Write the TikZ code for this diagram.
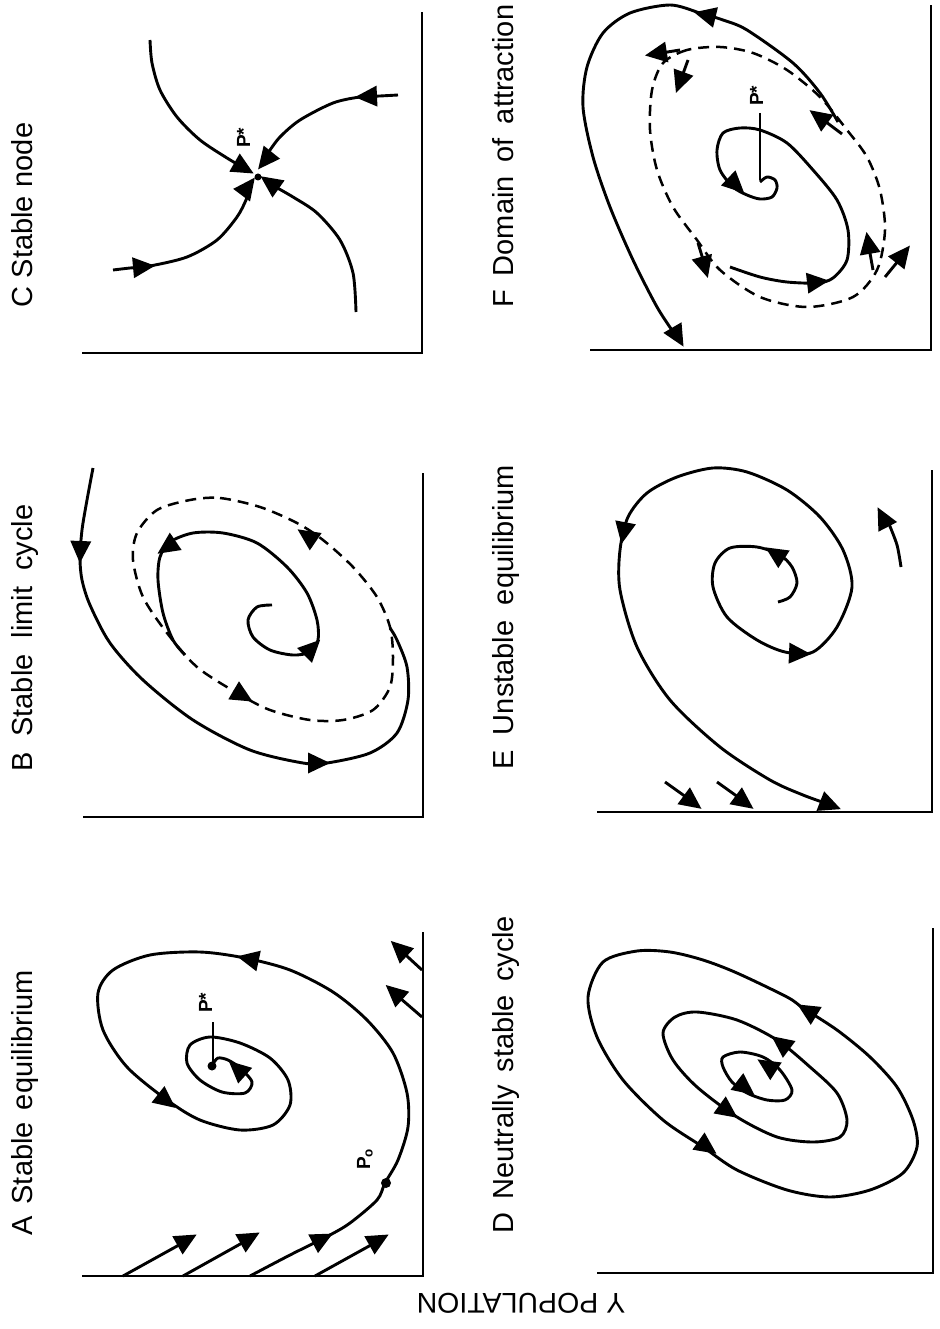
\documentclass[tikz,border=0pt]{standalone}
\usepackage{fontspec}
\setmainfont{Liberation Sans}
\usetikzlibrary{calc}
\newcommand{\ah}[4]{\begin{scope}[shift={(#3,#4)},rotate={atan2(#2-#4,#3-#1)}]\fill[headfill] (3,0) -- (-19,10.5) -- (-19,-10.5) -- cycle;\end{scope}}
\tikzset{
 ptitle/.style={rotate=90, anchor=base west, inner sep=0pt, font=\fontsize{29}{34}\selectfont},
 plabel/.style={rotate=90, anchor=base west, inner sep=0pt, font=\fontsize{19}{21}\selectfont\bfseries},
 axis/.style={line width=2.6pt},
 curve/.style={line width=2.9pt},
 dashcurve/.style={line width=2.5pt, dash pattern=on 11pt off 7pt},
 headfill/.style={fill=black},
 dotfill/.style={fill=black},
}
\begin{document}
\begin{tikzpicture}[x=1pt,y=-1pt]
\useasboundingbox (0,0) rectangle (939,1329);
\fill[white] (0,0) rectangle (939,1329);

% ---------- titles ----------
\node[ptitle] (tC) at (32,308) {\makebox[185pt][s]{C Stable node}};
\node[ptitle] (tB) at (32,772) {\makebox[267pt][s]{B Stable limit cycle}};
\node[ptitle] (tA) at (32,1236) {\makebox[266pt][s]{A Stable equilibrium}};
\node[ptitle] (tF) at (513,308) {\makebox[303pt][s]{F Domain of attraction}};
\node[ptitle] (tE) at (513,770) {\makebox[305pt][s]{E Unstable equilibrium}};
\node[ptitle] (tD) at (513,1234) {\makebox[318pt][s]{D Neutrally stable cycle}};
\node[rotate=180, inner sep=0pt, font=\fontsize{28.5}{30}\selectfont] (ylab) at (521,1303) {Y POPULATION};

% ---------- axes ----------
\draw[axis] (82,353) -- (422,353) -- (422,12);
\draw[axis] (83,817) -- (423,817) -- (423,473);
\draw[axis] (82,1276) -- (423,1276) -- (423,932);
\draw[axis] (590,350) -- (931,350) -- (931,5);
\draw[axis] (597,812) -- (932,812) -- (932,470);
\draw[axis] (597,1273) -- (933,1273) -- (933,928);

% ---------- C Stable node ----------
\draw[curve] plot[smooth] coordinates {(150,40) (152,63) (160,90) (177,117) (200,140) (227,158) (244,168)};
\ah{230}{160}{251}{172}
\draw[curve] plot[smooth] coordinates {(398,95) (380,96) (360,97) (333,103) (300,120) (280,137) (268,153) (264,160)};
\ah{380}{96}{358}{97}
\ah{272}{152}{260}{167}
\draw[curve] plot[smooth] coordinates {(113,270) (130,268) (150,266) (187,257) (217,240) (237,217) (246,200) (249,190)};
\ah{130}{268}{152}{266}
\ah{241}{196}{253}{180}
\draw[curve] plot[smooth] coordinates {(356,312) (353,273) (340,240) (317,213) (293,197) (272,185)};
\ah{280}{190}{263}{178}
\fill[dotfill] (258,177) circle[radius=3.5pt];
\node[plabel] (pC) at (250,148) {P*};

% ---------- B Stable limit cycle ----------
\draw[dashcurve] plot[smooth cycle] coordinates {(190,500) (220,498) (260,507) (297,523) (323,540) (353,567) (377,597) (390,627) (393,657) (390,687) (373,710) (343,720) (310,720) (270,710) (237,693) (197,667) (167,633) (143,597) (133,560) (137,533) (157,510)};
\ah{322}{546}{300}{531}
\ah{228}{687}{250}{700}
\draw[curve] plot[smooth] coordinates {(93,468) (87,500) (82,530) (80,558) (82,580) (90,605) (110,643) (143,680) (193,720) (250,750) (303,763) (327,763) (370,753) (397,733) (408,700) (407,667) (397,640) (390,628)};
\ah{81}{535}{80}{560}
\ah{303}{763}{327}{763}
\draw[curve] plot[smooth] coordinates {(272,605) (257,607) (248,620) (253,637) (270,650) (293,655) (310,652) (318,640) (317,620) (307,593) (287,567) (257,543) (223,533) (193,533) (170,542) (160,557) (158,580) (163,613) (173,640) (185,655)};
\ah{304}{656}{318}{642}
\ah{185}{535}{160}{552}

% ---------- A Stable equilibrium ----------
\draw[curve] (123,1276) -- (188,1240); \ah{123}{1276}{194}{1236}
\draw[curve] (183,1276) -- (251,1238); \ah{183}{1276}{257}{1234}
\draw[curve] (315,1276) -- (380,1240); \ah{315}{1276}{386}{1236}
\draw[curve] (422,1017) -- (393,992); \ah{422}{1017}{388}{987}
\draw[curve] (422,970) -- (397,947); \ah{422}{970}{393}{943}
\draw[curve] plot[smooth] coordinates {(250,1276) (290,1255) (328,1236) (350,1223) (377,1200) (385,1183) (398,1160) (408,1127) (407,1093) (393,1053) (367,1020) (333,992) (290,970) (245,958) (200,952) (150,955) (113,970) (98,993) (103,1030) (127,1067) (167,1100) (200,1120) (240,1130) (273,1125) (290,1105) (288,1080) (270,1058) (240,1043) (210,1037) (190,1045) (187,1063) (200,1080) (222,1092) (245,1093) (252,1082) (240,1068) (228,1060) (218,1058) (213,1064)};
\ah{305}{1248}{330}{1235}
\ah{268}{963}{240}{957}
\ah{150}{1088}{173}{1106}
\ah{250}{1080}{231}{1063}
\draw[line width=2pt] (213,1022) -- (213,1064);
\fill[dotfill] (212,1066) circle[radius=4.5pt];
\node[plabel] (pA) at (212,1013) {P*};
\fill[dotfill] (386,1183) circle[radius=5pt];
\node[plabel] (p0) at (370,1170) {P\textsubscript{o}};

% ---------- F Domain of attraction ----------
\draw[dashcurve] plot[smooth cycle] coordinates {(720,47) (687,50) (663,63) (652,90) (650,130) (657,170) (673,207) (697,240) (720,270) (760,297) (807,307) (853,297) (877,270) (885,230) (880,190) (867,157) (847,130) (820,97) (787,70) (753,53)};
\draw[curve] plot[smooth] coordinates {(838,122) (820,93) (793,63) (747,30) (723,20) (700,13) (670,5) (630,13) (603,33) (587,67) (583,107) (593,157) (610,207) (633,260) (657,307) (674,333)};
\ah{722}{19}{697}{13}
\ah{668}{320}{682}{344}
\draw[curve] (680,50) -- (655,54); \ah{680}{50}{648}{55}
\draw[curve] (688,60) -- (680,82); \ah{688}{60}{677}{90}
\draw[curve] (698,243) -- (705,266); \ah{698}{243}{707}{275}
\draw[curve] (873,270) -- (868,242); \ah{873}{270}{867}{235}
\draw[curve] (885,277) -- (903,255); \ah{885}{277}{908}{248}
\draw[curve] (842,134) -- (818,116); \ah{842}{134}{812}{112}
\draw[curve] plot[smooth] coordinates {(730,267) (760,277) (787,282) (817,283) (833,278) (847,260) (848,230) (837,200) (813,170) (787,143) (760,130) (740,128) (723,133) (717,150) (720,170) (733,187) (747,195) (760,199) (772,197) (777,188) (775,180) (767,177) (760,182)};
\ah{800}{284}{826}{281}
\ah{722}{172}{742}{191}
\draw[line width=2pt] (760,113) -- (760,180);
\node[plabel] (pF) at (763,106) {P*};

% ---------- E Unstable equilibrium ----------
\draw[curve] plot[smooth] coordinates {(778,602) (790,597) (797,583) (792,567) (780,555) (757,547) (730,548) (715,563) (713,587) (727,617) (757,640) (785,652) (813,652) (837,627) (852,587) (843,550) (820,517) (787,490) (747,472) (713,468) (677,477) (647,493) (628,517) (620,550) (620,590) (637,647) (670,700) (720,747) (770,780) (803,795) (828,804)};
\ah{785}{560}{768}{549}
\ah{785}{653}{808}{654}
\ah{627}{515}{622}{541}
\ah{815}{799}{838}{808}
\draw[curve] (665,782) -- (693,802); \ah{665}{782}{699}{807}
\draw[curve] (717,782) -- (745,802); \ah{717}{782}{751}{807}
\draw[curve] plot[smooth] coordinates {(901,567) (897,545) (889,524)};
\ah{893}{537}{879}{510}

% ---------- D Neutrally stable cycle ----------
\draw[curve] plot[smooth cycle] coordinates {(603,962) (637,951) (670,952) (703,960) (737,973) (787,997) (803,1008) (837,1030) (870,1057) (897,1087) (913,1120) (917,1147) (903,1173) (870,1190) (830,1197) (787,1190) (737,1170) (703,1147) (663,1120) (623,1080) (597,1037) (588,997)};
\ah{818}{1017}{800}{1006}
\ah{697}{1140}{714}{1152}
\draw[curve] plot[smooth cycle] coordinates {(663,1033) (675,1017) (697,1012) (737,1020) (777,1040) (810,1067) (837,1093) (847,1120) (840,1137) (813,1142) (777,1137) (737,1117) (697,1087) (673,1060)};
\ah{790}{1050}{774}{1038}
\ah{717}{1103}{735}{1116}
\draw[curve] plot[smooth cycle] coordinates {(723,1057) (740,1052) (763,1057) (780,1070) (792,1090) (785,1100) (767,1100) (747,1093) (732,1082) (723,1067)};
\ah{777}{1072}{760}{1061}
\ah{735}{1080}{752}{1093}
\end{tikzpicture}
\end{document}
